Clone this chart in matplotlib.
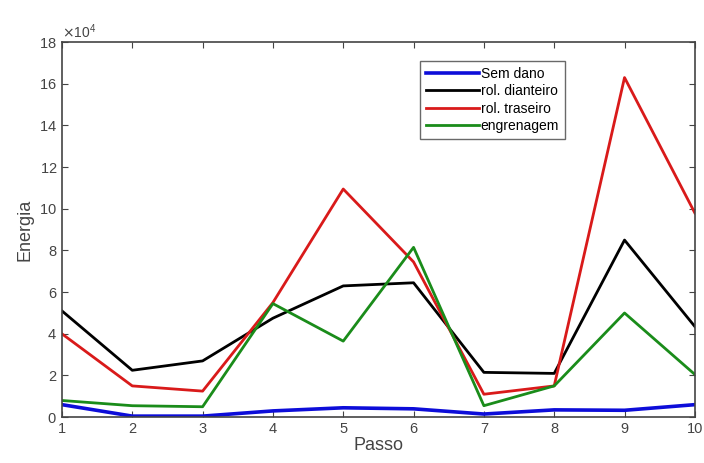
import numpy as np
import matplotlib
matplotlib.use("Agg")
import matplotlib.pyplot as plt
from matplotlib.ticker import ScalarFormatter

# energia por passo, para cada condicao
passo = [1, 2, 3, 4, 5, 6, 7, 8, 9, 10]
sem_dano = [6000, 500, 500, 3000, 4500, 4000, 1500, 3500, 3300, 6000]
rol_dianteiro = [51000, 22500, 27000, 47500, 63000, 64500, 21500, 21000, 85000, 43500]
rol_traseiro = [40000, 15000, 12500, 55000, 109500, 74500, 11000, 15000, 163000, 98000]
engrenagem = [8000, 5500, 5000, 54500, 36500, 81500, 5500, 15000, 50000, 20500]

plt.rcParams["font.family"] = ["Liberation Sans", "DejaVu Sans"]
fig = plt.figure(figsize=(7.04, 4.63), dpi=100)
ax = fig.add_axes([0.088, 0.099, 0.899, 0.81])

ax.plot(passo, sem_dano, color=(0.05, 0.05, 0.85), lw=2.6, label="Sem dano")
ax.plot(passo, rol_dianteiro, color="black", lw=2.0, label="rol. dianteiro")
ax.plot(passo, rol_traseiro, color=(0.85, 0.1, 0.1), lw=2.0, label="rol. traseiro")
ax.plot(passo, engrenagem, color=(0.1, 0.55, 0.1), lw=2.0, label="engrenagem")

ax.set_xlim(1, 10)
ax.set_ylim(0, 180000)
ax.set_xticks(passo)
ax.set_yticks(np.arange(0, 180001, 20000))

fmt = ScalarFormatter(useMathText=True)
fmt.set_powerlimits((4, 4))
ax.yaxis.set_major_formatter(fmt)
ax.yaxis.get_offset_text().set_fontsize(10)
ax.yaxis.get_offset_text().set_color("#444444")

ax.tick_params(direction="in", top=True, right=True, labelsize=10.5,
               colors="#444444", length=4)
for s in ax.spines.values():
    s.set_color("#444444")
    s.set_linewidth(1.2)

ax.set_xlabel("Passo", fontsize=13, color="#444444", labelpad=1)
ax.set_ylabel("Energia", fontsize=13, color="#444444", labelpad=4)

leg = ax.legend(loc="upper right", bbox_to_anchor=(0.802, 0.962), fontsize=10,
                frameon=True, fancybox=False, edgecolor="#444444",
                handlelength=3.8, handletextpad=0.15, borderpad=0.45,
                labelspacing=0.25, borderaxespad=0.3)
leg.get_frame().set_linewidth(1.0)

fig.savefig("out.png", dpi=100)
